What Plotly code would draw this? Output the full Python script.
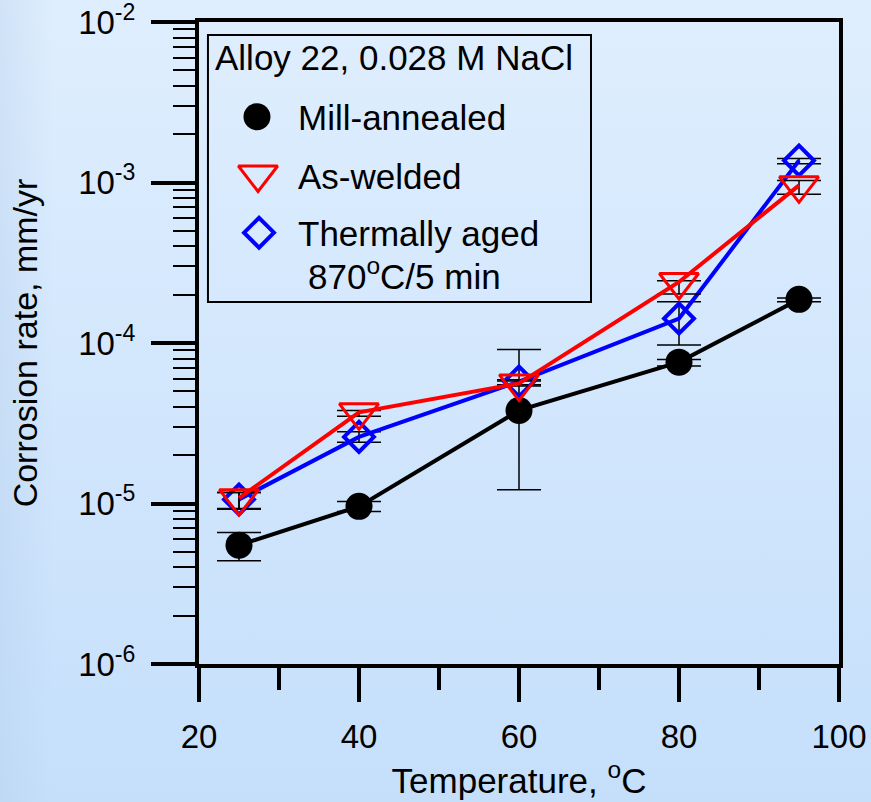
import base64
import plotly.graph_objects as go

# ---------------- data ----------------
temperature = [25, 40, 60, 80, 95]

mill_annealed = [5.5e-6, 9.6e-6, 3.8e-5, 7.6e-5, 1.87e-4]
mill_hi = [6.6e-6, 1.03e-5, 9.1e-5, 7.9e-5, 1.91e-4]
mill_lo = [4.4e-6, 8.9e-6, 1.22e-5, 7.2e-5, 1.81e-4]

as_welded = [1.08e-5, 3.7e-5, 5.6e-5, 2.4e-4, 9.6e-4]
welded_hi = [1.17e-5, 3.8e-5, 5.8e-5, 2.44e-4, 1.03e-3]
welded_lo = [9.2e-6, 3.5e-5, 5.4e-5, 2.02e-4, 8.45e-4]

thermally_aged = [1.06e-5, 2.6e-5, 5.75e-5, 1.42e-4, 1.37e-3]
aged_hi = [1.17e-5, 2.8e-5, 5.9e-5, 1.81e-4, 1.41e-3]
aged_lo = [9.3e-6, 2.41e-5, 5.5e-5, 9.7e-5, 1.31e-3]

x_tickvals = [20, 40, 60, 80, 100]
y_tickvals = [1e-6, 1e-5, 1e-4, 1e-3, 1e-2]
y_ticktext = ["10<sup>-6</sup>", "10<sup>-5</sup>", "10<sup>-4</sup>",
              "10<sup>-3</sup>", "10<sup>-2</sup>"]

legend_title = "Alloy 22, 0.028 M NaCl"
series_names = ["Mill-annealed", "As-welded", "Thermally aged"]
aged_note = "870<sup>o</sup>C/5 min"
x_title = "Temperature, <sup>o</sup>C"
y_title = "Corrosion rate, mm/yr"

FONT = "Liberation Sans, Arial, sans-serif"


def err(vals, hi, lo):
    return dict(type="data", symmetric=False,
                array=[h - v for v, h in zip(vals, hi)],
                arrayminus=[v - l for v, l in zip(vals, lo)],
                color="black", thickness=1.5, width=22)


fig = go.Figure()

fig.add_trace(go.Scatter(
    x=temperature, y=mill_annealed, mode="lines+markers", name=series_names[0],
    line=dict(color="black", width=4),
    marker=dict(symbol="circle", size=27, color="black"),
    error_y=err(mill_annealed, mill_hi, mill_lo), showlegend=False, cliponaxis=False))

fig.add_trace(go.Scatter(
    x=temperature, y=thermally_aged, mode="lines+markers", name=series_names[2],
    line=dict(color="#0000FF", width=4),
    marker=dict(symbol="diamond-open", size=23, color="#0000FF",
                line=dict(color="#0000FF", width=4)),
    error_y=err(thermally_aged, aged_hi, aged_lo), showlegend=False, cliponaxis=False))

fig.add_trace(go.Scatter(
    x=temperature, y=as_welded, mode="lines+markers", name=series_names[1],
    line=dict(color="#FF0000", width=4),
    marker=dict(symbol="triangle-down-open", size=34, color="#FF0000",
                line=dict(color="#FF0000", width=3)),
    error_y=err(as_welded, welded_hi, welded_lo), showlegend=False, cliponaxis=False))

# ---------------- hand-made legend (overlay axes in 0..1 units) ----------------
leg_symbols = ["circle", "triangle-down-open", "diamond-open"]
leg_colors = ["black", "#FF0000", "#0000FF"]
leg_sizes = [27, 34, 23]
leg_x = [0.0906, 0.0922, 0.0938]
leg_y = [0.8525, 0.7625, 0.6718]
for s, c, sz, lx, ly in zip(leg_symbols, leg_colors, leg_sizes, leg_x, leg_y):
    fig.add_trace(go.Scatter(
        x=[lx], y=[ly], xaxis="x2", yaxis="y2", mode="markers", showlegend=False,
        hoverinfo="skip",
        marker=dict(symbol=s, size=sz, color=c,
                    line=dict(color=c, width=(4 if s.startswith("diamond") else 3) if "open" in s else 0))))

ann_font = dict(family=FONT, size=35, color="black")
annotations = [
    dict(text=legend_title, x=0.022, y=0.944),
    dict(text=series_names[0], x=0.151, y=0.8505),
    dict(text=series_names[1], x=0.151, y=0.760),
    dict(text=series_names[2], x=0.151, y=0.6713),
    dict(text=aged_note, x=0.167, y=0.6075),
]
for a in annotations:
    a.update(xref="paper", yref="paper", xanchor="left", yanchor="middle",
             showarrow=False, font=ann_font)

# ---------------- background gradient ----------------
svg = (
    '<svg xmlns="http://www.w3.org/2000/svg" width="871" height="802" preserveAspectRatio="none">'
    '<defs><linearGradient id="g" x1="0" y1="0" x2="0" y2="1">'
    '<stop offset="0" stop-color="#DFEEFE"/><stop offset="1" stop-color="#C5DFFB"/>'
    '</linearGradient>'
    '<linearGradient id="h" x1="0" y1="0" x2="1" y2="0">'
    '<stop offset="0" stop-color="#B4CDEB" stop-opacity="0.35"/>'
    '<stop offset="0.06" stop-color="#B4CDEB" stop-opacity="0"/>'
    '</linearGradient></defs>'
    '<rect width="871" height="802" fill="url(#g)"/>'
    '<rect width="871" height="802" fill="url(#h)"/></svg>'
)
bg_src = "data:image/svg+xml;base64," + base64.b64encode(svg.encode()).decode()

L, R, T, B = 199, 32, 22, 138
W, H = 871, 802
pw, ph = W - L - R, H - T - B

fig.update_layout(
    width=W, height=H,
    margin=dict(l=L, r=R, t=T, b=B, pad=0),
    paper_bgcolor="#D3E7FC",
    plot_bgcolor="rgba(0,0,0,0)",
    font=dict(family=FONT, color="black"),
    images=[dict(source=bg_src, xref="paper", yref="paper",
                 x=-L / pw, y=1 + T / ph, sizex=W / pw, sizey=H / ph,
                 sizing="stretch", xanchor="left", yanchor="top", layer="below")],
    shapes=[dict(type="rect", xref="paper", yref="paper",
                 x0=0.014, x1=0.6125, y0=0.5639, y1=0.9798,
                 line=dict(color="black", width=2), fillcolor="rgba(0,0,0,0)")],
    annotations=annotations,
    xaxis=dict(
        range=[20, 100], tickmode="array", tickvals=x_tickvals,
        ticks="outside", ticklen=34, tickwidth=4, tickcolor="black",
        minor=dict(tickmode="array", tickvals=[30, 50, 70, 90], ticks="outside",
                   ticklen=22, tickwidth=4, tickcolor="black"),
        showline=True, linewidth=4, linecolor="black", mirror=True,
        showgrid=False, zeroline=False, automargin=False,
        ticklabeloverflow="allow", ticklabelstandoff=6,
        tickfont=dict(family=FONT, size=33, color="black"),
        title=dict(text=x_title, font=dict(family=FONT, size=35, color="black"), standoff=16),
    ),
    yaxis=dict(
        type="log", range=[-6, -2], tickmode="array",
        tickvals=y_tickvals, ticktext=y_ticktext,
        ticks="outside", ticklen=44, tickwidth=4, tickcolor="black",
        minor=dict(tickmode="array",
                   tickvals=[m * 10.0 ** e for e in range(-6, -2) for m in range(2, 10)],
                   ticks="outside", ticklen=22, tickwidth=1.5, tickcolor="black"),
        showline=True, linewidth=4, linecolor="black", mirror=True,
        showgrid=False, zeroline=False, automargin=False,
        ticklabeloverflow="allow", ticklabelstandoff=9,
        tickfont=dict(family=FONT, size=33, color="black"),
        title=dict(text=y_title, font=dict(family=FONT, size=34, color="black"), standoff=31),
    ),
    xaxis2=dict(overlaying="x", anchor="y2", range=[0, 1], visible=False),
    yaxis2=dict(overlaying="y", anchor="x2", range=[0, 1], visible=False),
)

fig.write_html("out.html", config={"displayModeBar": False},
               post_script="document.body.style.margin='0px';document.body.style.padding='0px';")
